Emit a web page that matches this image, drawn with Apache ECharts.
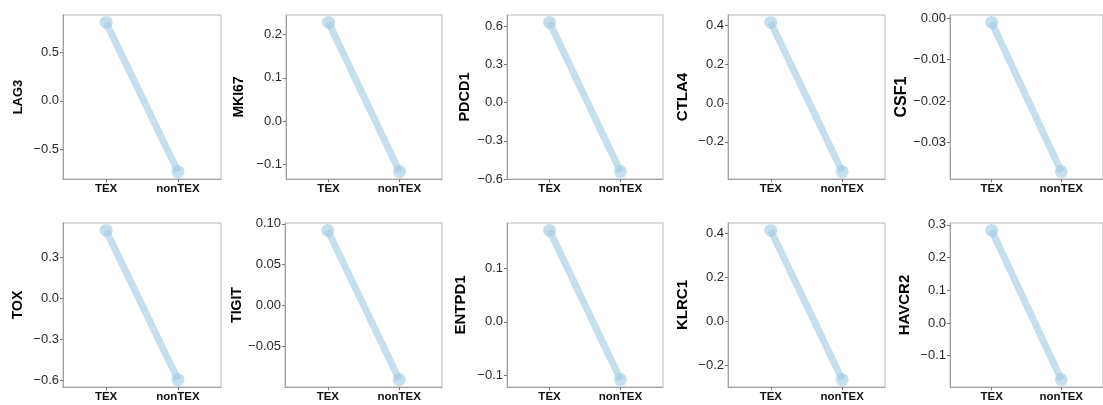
<!DOCTYPE html>
<html>
<head>
<meta charset="utf-8">
<script src="https://cdn.jsdelivr.net/npm/echarts@6/dist/echarts.min.js"></script>
<style>
  html, body { margin: 0; padding: 0; background: #fff; }
  #chart { width: 1103px; height: 405px; }
</style>
</head>
<body>
<div id="chart"></div>
<script>
// ── Per-gene mean expression, TEX vs nonTEX ──
const groups = ['TEX', 'nonTEX'];
const genes = ['LAG3', 'MKI67', 'PDCD1', 'CTLA4', 'CSF1', 'TOX', 'TIGIT', 'ENTPD1', 'KLRC1', 'HAVCR2'];
const texValues = [0.81, 0.228, 0.63, 0.414, -0.001, 0.495, 0.0918, 0.170, 0.412, 0.283];
const nonTexValues = [-0.73, -0.117, -0.542, -0.353, -0.037, -0.593, -0.0907, -0.1074, -0.263, -0.173];
const yTicks = [
  [-0.5, 0, 0.5],
  [-0.1, 0, 0.1, 0.2],
  [-0.6, -0.3, 0, 0.3, 0.6],
  [-0.2, 0, 0.2, 0.4],
  [-0.03, -0.02, -0.01, 0],
  [-0.6, -0.3, 0, 0.3],
  [-0.05, 0, 0.05, 0.1],
  [-0.1, 0, 0.1],
  [-0.2, 0, 0.2, 0.4],
  [-0.1, 0, 0.1, 0.2, 0.3],
];
const yTickLabels = [
  ['\u22120.5', '0.0', '0.5'],
  ['\u22120.1', '0.0', '0.1', '0.2'],
  ['\u22120.6', '\u22120.3', '0.0', '0.3', '0.6'],
  ['\u22120.2', '0.0', '0.2', '0.4'],
  ['\u22120.03', '\u22120.02', '\u22120.01', '0.00'],
  ['\u22120.6', '\u22120.3', '0.0', '0.3'],
  ['\u22120.05', '0.00', '0.05', '0.10'],
  ['\u22120.1', '0.0', '0.1'],
  ['\u22120.2', '0.0', '0.2', '0.4'],
  ['\u22120.1', '0.0', '0.1', '0.2', '0.3'],
];

// layout (px)
const panelLeft = [63, 286, 507, 728, 950, 63, 285, 507, 728, 950];
const panelWidth = [158, 156, 156, 157, 156, 158, 157, 156, 157, 156];
const rowTop = [15, 223];
const panelHeight = 164;
const nameOffset = [45, 47, 42, 45, 45, 45, 45.5, 46, 45, 45];
const nameSize = [13, 14, 14.5, 15, 16, 14, 14, 15, 15, 15];

const FONT = '"Liberation Sans", Arial, sans-serif';
const LINE = '#9ecae1';

const chart = echarts.init(document.getElementById('chart'), null, { renderer: 'canvas' });

const grid = [], xAxis = [], yAxis = [], series = [];
genes.forEach((g, i) => {
  const lo = Math.min(texValues[i], nonTexValues[i]);
  const hi = Math.max(texValues[i], nonTexValues[i]);
  const pad = (hi - lo) * 0.05;
  grid.push({
    left: panelLeft[i], top: rowTop[Math.floor(i / 5)],
    width: panelWidth[i], height: panelHeight,
    show: true, borderColor: '#b8b8b8', borderWidth: 1, containLabel: false,
  });
  xAxis.push({
    type: 'value', gridIndex: i, min: 0.4, max: 2.6,
    axisLine: { show: true, onZero: false, lineStyle: { color: '#a0a0a0', width: 1 } },
    axisTick: { show: true, customValues: [1, 2], length: 3, lineStyle: { color: '#777' } },
    axisLabel: {
      customValues: [1, 2], margin: 4,
      formatter: v => groups[Math.round(v) - 1],
      fontFamily: FONT, fontWeight: 'bold', fontSize: 11.5, color: '#111',
    },
    splitLine: { show: false },
  });
  yAxis.push({
    type: 'value', gridIndex: i, min: lo - pad, max: hi + pad,
    name: g, nameLocation: 'middle', nameGap: nameOffset[i] - nameSize[i] / 2,
    nameTextStyle: { fontFamily: FONT, fontWeight: 'bold', fontSize: nameSize[i], color: '#000' },
    axisLine: { show: true, onZero: false, lineStyle: { color: '#a0a0a0', width: 1 } },
    axisTick: { show: true, customValues: yTicks[i], length: 3, lineStyle: { color: '#777' } },
    axisLabel: {
      customValues: yTicks[i], margin: 4,
      formatter: v => {
        const k = yTicks[i].findIndex(t => Math.abs(t - v) < 1e-9);
        return k >= 0 ? yTickLabels[i][k] : '';
      },
      fontFamily: FONT, fontSize: 13, color: '#2a2a2a',
    },
    splitLine: { show: false },
  });
  series.push({
    type: 'line', xAxisIndex: i, yAxisIndex: i,
    data: [[1, texValues[i]], [2, nonTexValues[i]]],
    symbol: 'circle', symbolSize: 13,
    lineStyle: { color: LINE, width: 7, opacity: 0.6 },
    itemStyle: { color: LINE, opacity: 0.6 },
    silent: true,
  });
});

chart.setOption({
  animation: false,
  backgroundColor: '#fff',
  grid, xAxis, yAxis, series,
});
</script>
</body>
</html>
